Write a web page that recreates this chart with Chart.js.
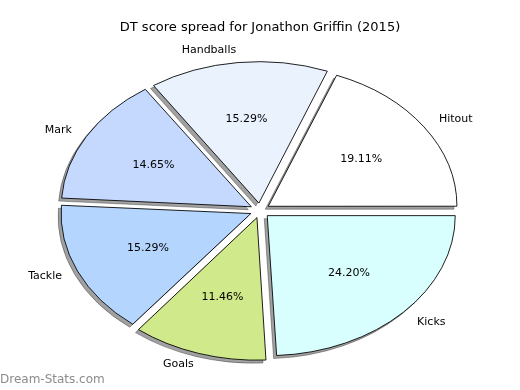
<!DOCTYPE html>
<html>
<head>
<meta charset="utf-8">
<script src="https://cdn.jsdelivr.net/npm/chart.js@4/dist/chart.umd.min.js"></script>
<style>
    html, body { margin: 0; padding: 0; background: #fff; }
    #wrap { width: 520px; height: 390px; position: relative; }
</style>
</head>
<body>
<div id="wrap"><canvas id="myChart" width="520" height="390"></canvas></div>
<script>
// slices in the order they go round (counter-clockwise from 3 o'clock)
const labels = ['Hitout', 'Handballs', 'Mark', 'Tackle', 'Goals', 'Kicks'];
const scores = [60, 48, 46, 48, 36, 76];
const colors = ['#ffffff', '#eaf2fe', '#c5d9fe', '#b3d5fe', '#d0e98b', '#d8fffe'];

const titleText = 'DT score spread for Jonathon Griffin (2015)';
const watermark = 'Dream-Stats.com';

const squash = 0.745;   // pie is drawn as an ellipse
const centerY = 210.5;
const explode = 40;     // chart.js divides arc offset by 4

const total = scores.reduce((a, b) => a + b, 0);

// chart.js goes clockwise, so feed the slices reversed
const revLabels = [...labels].reverse();
const revScores = [...scores].reverse();
const revColors = [...colors].reverse();

const ellipsePlugin = {
    id: 'ellipse',
    beforeDatasetsDraw: (chart) => {
        const { ctx } = chart;
        const meta = chart.getDatasetMeta(0);
        const cy = meta.data[0].y;
        ctx.save();
        ctx.translate(0, centerY);
        ctx.scale(1, squash);
        ctx.translate(0, -cy);

        // shadows first
        meta.data.forEach((arc) => {
            ctx.save();
            ctx.translate(-3, 3 / squash);
            ctx.filter = 'brightness(0)';
            ctx.globalAlpha = 0.37;
            arc.draw(ctx);
            ctx.restore();
        });
    },
    afterDatasetsDraw: (chart) => {
        chart.ctx.restore();
    },
    afterDraw: (chart) => {
        const { ctx } = chart;
        const meta = chart.getDatasetMeta(0);
        const off = explode / 4;
        ctx.save();
        ctx.font = '11px "DejaVu Sans"';
        ctx.fillStyle = '#000';
        ctx.textBaseline = 'middle';
        meta.data.forEach((arc, i) => {
            const { x, startAngle, endAngle, outerRadius } = arc.getProps(['x', 'startAngle', 'endAngle', 'outerRadius']);
            const mid = (startAngle + endAngle) / 2;
            const c = Math.cos(mid), s = Math.sin(mid);

            const rl = outerRadius * 1.1 + off;
            ctx.textAlign = c > 0 ? 'left' : 'right';
            ctx.fillText(revLabels[i], x + rl * c, centerY + rl * s * squash);

            const rp = outerRadius * 0.6 + off;
            ctx.textAlign = 'center';
            const pct = (revScores[i] / total * 100).toFixed(2) + '%';
            ctx.fillText(pct, x + rp * c, centerY + rp * s * squash);
        });

        ctx.font = '12px "DejaVu Sans"';
        ctx.fillStyle = '#8c8c8c';
        ctx.textAlign = 'left';
        ctx.fillText(watermark, 0, 380);
        ctx.restore();
    }
};

const ctx = document.getElementById('myChart');

new Chart(ctx, {
    type: 'pie',
    data: {
        labels: revLabels,
        datasets: [{
            data: revScores,
            backgroundColor: revColors,
            borderColor: '#000',
            borderWidth: 1,
            offset: explode,
            radius: 188,
            clip: false
        }]
    },
    options: {
        responsive: false,
        animation: false,
        rotation: 90,
        events: [],
        layout: { padding: 0 },
        plugins: {
            legend: { display: false },
            tooltip: { enabled: false },
            title: {
                display: true,
                text: titleText,
                color: '#000',
                font: { family: 'DejaVu Sans', size: 13, weight: 'normal' },
                padding: { top: 20, bottom: 10 }
            }
        }
    },
    plugins: [ellipsePlugin]
});
</script>
</body>
</html>
